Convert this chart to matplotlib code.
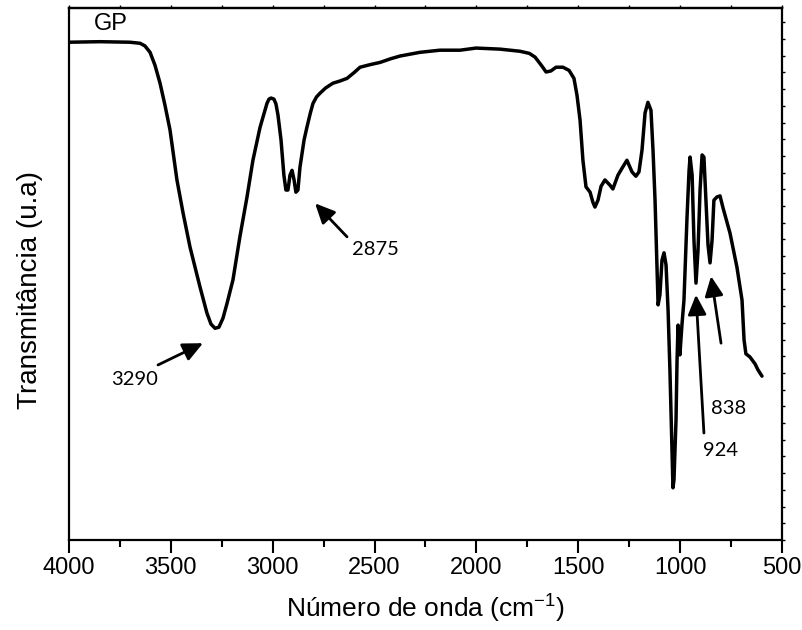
import matplotlib
matplotlib.use("Agg")
import matplotlib.pyplot as plt
import numpy as np

plt.rcParams['font.family'] = ['Liberation Sans', 'DejaVu Sans']
plt.rcParams['mathtext.fontset'] = 'custom'
plt.rcParams['mathtext.rm'] = 'Liberation Sans'
plt.rcParams['mathtext.it'] = 'Liberation Sans'

# FTIR spectrum of GP
wavenumber = [4000, 3848, 3701, 3651, 3627, 3602, 3578, 3553, 3529, 3504,
              3470, 3440, 3406, 3357, 3323, 3303, 3283, 3264, 3244, 3224,
              3195, 3161, 3126, 3097, 3062, 3040, 3028, 3018, 3008, 2994,
              2984, 2974, 2959, 2945, 2935, 2925, 2915, 2905, 2895, 2886,
              2876, 2866, 2846, 2832, 2815, 2802, 2785, 2768, 2740, 2704,
              2670, 2635, 2600, 2571, 2520, 2473, 2420, 2375, 2277, 2179,
              2080, 2002, 1884, 1786, 1740, 1712, 1678, 1658, 1634, 1609,
              1575, 1545, 1521, 1506, 1491, 1477, 1462, 1442, 1428, 1418,
              1403, 1388, 1369, 1344, 1330, 1305, 1285, 1261, 1236, 1217,
              1202, 1187, 1172, 1158, 1143, 1133, 1123, 1113, 1108, 1099,
              1089, 1079, 1069, 1059, 1050, 1040, 1035, 1030, 1020, 1015,
              1010, 1005, 1001, 991, 981, 966, 956, 951, 941, 932,
              922, 912, 902, 892, 883, 873, 863, 853, 843, 834,
              819, 804, 789, 755, 721, 696, 686, 677, 657, 632,
              618, 598]
transmittance = [93.6, 93.7, 93.6, 93.4, 92.9, 91.7, 89.3, 85.9, 81.8, 77.1,
                 67.7, 61.5, 55.1, 47.6, 42.7, 40.6, 39.8, 40.0, 41.7, 44.5,
                 48.9, 57.0, 64.5, 71.4, 77.6, 80.5, 82.1, 82.9, 83.1, 82.9,
                 82.0, 79.9, 75.2, 68.6, 65.8, 65.8, 68.6, 69.5, 67.7, 65.4,
                 65.8, 70.1, 75.2, 77.6, 80.3, 82.1, 83.3, 84.0, 85.0, 85.9,
                 86.3, 86.8, 87.9, 88.9, 89.4, 89.8, 90.5, 91.0, 91.7, 92.1,
                 92.1, 92.5, 92.3, 91.9, 91.5, 90.8, 89.1, 88.0, 88.2, 88.9,
                 88.9, 88.3, 86.8, 83.6, 78.9, 71.4, 66.4, 65.4, 63.5, 62.6,
                 63.9, 66.5, 67.7, 66.7, 66.0, 68.6, 69.9, 71.4, 69.2, 68.4,
                 69.2, 73.3, 80.3, 82.3, 80.8, 73.3, 63.9, 50.8, 44.2, 46.1,
                 52.6, 54.0, 51.7, 43.2, 32.0, 16.9, 9.8, 11.3, 22.6, 33.8,
                 40.4, 37.6, 34.8, 40.4, 45.1, 60.7, 69.5, 72.0, 68.6, 56.4,
                 48.3, 54.5, 65.8, 72.4, 72.0, 63.9, 55.5, 52.1, 56.4, 63.9,
                 64.5, 64.7, 62.4, 57.7, 51.3, 45.1, 37.6, 35.0, 34.4, 33.1,
                 32.0, 30.8]

# band labels: text, arrow tip (x, y), arrow tail (x, y), text position (x, y)
band_labels = ["3290", "2875", "924", "838"]
arrow_tips = [(3342, 37.0), (2792, 63.3), (922, 46.1), (848, 49.6)]
arrow_tails = [(3563, 32.9), (2635, 57.0), (883, 20.1), (799, 37.0)]
label_pos = [(3676, 30.1), (2498, 54.7), (799, 16.9), (760, 24.8)]

fig = plt.figure(figsize=(8.02, 6.3), dpi=100)
ax = fig.add_axes([0.086, 0.143, 0.889, 0.844])

ax.plot(wavenumber, transmittance, color="black", lw=2.5,
        solid_joinstyle="round", solid_capstyle="round")

for lab, tip, tail, pos in zip(band_labels, arrow_tips, arrow_tails, label_pos):
    ax.annotate("", xy=tip, xytext=tail,
                arrowprops=dict(arrowstyle="-|>,head_length=0.6,head_width=0.28",
                                mutation_scale=20, lw=2, color="black",
                                shrinkA=0, shrinkB=0))
    ax.text(pos[0], pos[1], lab, family="Lato", fontsize=14.5,
            ha="center", va="center")

ax.text(0.058, 0.971, "GP", transform=ax.transAxes, fontsize=17,
        ha="center", va="center")

ax.set_xlim(4000, 500)
ax.set_ylim(0, 100)
ax.set_xticks(np.arange(500, 4001, 500))
ax.set_xticks(np.arange(500, 4001, 250), minor=True)
ax.set_yticks(np.arange(0, 100, 3.14))
ax.tick_params(axis="x", which="major", direction="out", length=9, width=1.5,
               labelsize=17, pad=3)
ax.tick_params(axis="x", which="minor", direction="out", length=5, width=1.5)
ax.tick_params(axis="y", left=False, labelleft=False, right=True, labelright=False,
               direction="out", length=2, width=1)
for sp in ax.spines.values():
    sp.set_linewidth(1.6)

# tiny ticks along the top edge
top = ax.secondary_xaxis("top")
top.set_xticks(np.arange(500, 4001, 250))
top.tick_params(direction="out", length=2, width=1, labeltop=False)
top.spines["top"].set_linewidth(1.6)

ax.set_xlabel(r"Número de onda (cm$^{\mathregular{-1}}$)", fontsize=19, labelpad=10)
ax.set_ylabel("Transmitância (u.a)", fontsize=20)
ax.yaxis.set_label_coords(-0.037, 0.47)

fig.savefig("out.png", dpi=100)
